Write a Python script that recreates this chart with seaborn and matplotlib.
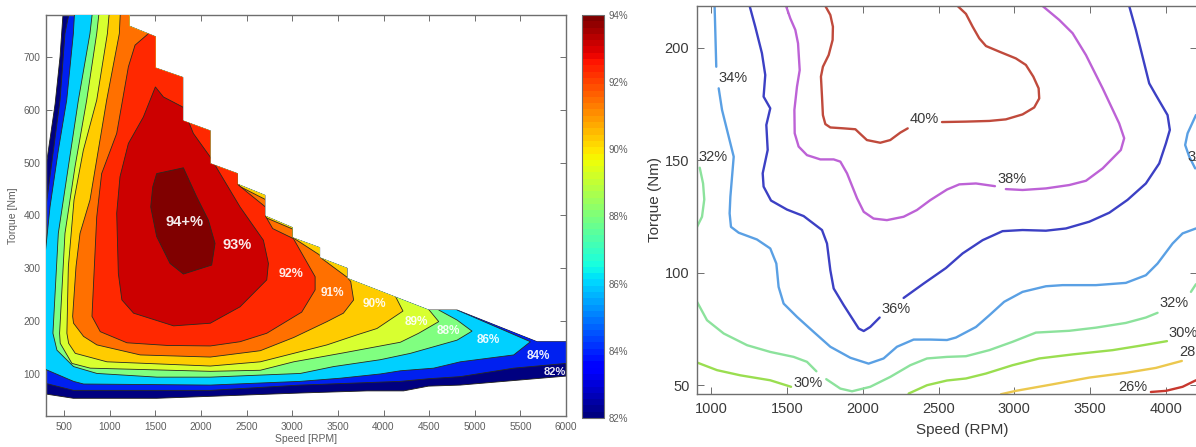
import matplotlib
matplotlib.use("Agg")
import matplotlib.pyplot as plt
import seaborn as sns

sns.set_style("ticks")
plt.rcParams['font.family'] = ['Liberation Sans', 'DejaVu Sans']

# ---------- left map: efficiency bands, speed [RPM] / torque [Nm] ----------
env_speed = [490, 1214, 1214, 1500, 1500, 1800, 1800, 2100, 2100, 2400, 2400, 2700, 2700, 3000, 3000, 3300, 3300,
             3600, 3600, 4495, 4806, 5683, 6000, 6000, 4842, 4492, 4220, 3820, 3090, 1513, 600, 300, 300, 400, 454, 490]
env_torque = [790, 790, 758, 738, 679, 661, 579, 560, 498, 479, 459, 438, 399, 377, 358, 339, 320,
              300, 281, 221, 221, 161, 161, 96, 79, 77, 68, 68, 64, 54, 54, 62, 492, 611, 700, 790]

b84_speed = [574, 508, 454, 300, 300, 602, 2101, 3088, 4184, 4495, 4842, 5427, 6005, 6100, 4806, 3000, 1500, 574]
b84_torque = [800, 744, 618, 416, 82, 69, 69, 79, 86, 91, 95, 111, 120, 170, 300, 700, 900, 800]

b86_speed = [618, 600, 527, 435, 344, 290, 290, 602, 712, 2101, 3088, 3527, 3965, 4184, 4550, 4842, 5427, 5610,
             4806, 4806, 3000, 1500, 618]
b86_torque = [800, 744, 618, 523, 416, 325, 109, 86, 81, 79, 86, 92, 100, 106, 111, 123, 136, 161,
              221, 300, 700, 900, 800]

b88_speed = [819, 782, 655, 545, 435, 376, 420, 602, 858, 1516, 2101, 3088, 3453, 3965, 4294, 4806, 4970, 4806,
             4605, 4605, 3000, 1500, 819]
b88_torque = [800, 744, 618, 492, 366, 177, 145, 114, 101, 94, 94, 101, 114, 127, 139, 164, 181, 202,
              221, 300, 700, 900, 800]

b89_speed = [892, 856, 746, 618, 508, 449, 456, 584, 785, 2101, 2649, 3015, 3563, 4184, 4385, 4605, 4495,
             4495, 3000, 1500, 892]
b89_torque = [800, 744, 618, 492, 366, 177, 158, 120, 111, 105, 107, 123, 140, 160, 177, 199, 222,
              300, 700, 900, 800]

b90_speed = [1002, 973, 856, 709, 607, 545, 529, 548, 621, 968, 2101, 2649, 3015, 3380, 3709, 3928, 4213, 4130,
             4130, 3000, 1500, 1002]
b90_torque = [800, 744, 618, 523, 429, 303, 177, 158, 139, 123, 115, 123, 139, 155, 174, 186, 219, 247,
              300, 700, 900, 800]

b91_speed = [1119, 1104, 965, 782, 673, 629, 592, 602, 712, 858, 1334, 2101, 2649, 3015, 3380, 3560, 3672, 3640,
             3600, 3310, 3300, 3005, 3005, 2705, 2705, 2420, 2405, 1500, 1119]
b91_torque = [800, 744, 618, 429, 366, 303, 209, 196, 171, 155, 136, 132, 144, 169, 199, 215, 240, 275,
              283, 320, 325, 358, 374, 396, 430, 455, 500, 900, 800]

b92_speed = [1500, 1404, 1276, 1203, 1075, 910, 856, 804, 895, 1187, 1626, 2101, 2427, 2720, 3103, 3250, 3250,
             3012, 2785, 2705, 2705, 2405, 2405, 1500]
b92_torque = [760, 741, 722, 681, 555, 479, 397, 209, 180, 159, 154, 153, 161, 177, 217, 259, 284,
              356, 375, 399, 416, 458, 500, 760]

b93_speed = [1499, 1367, 1203, 1111, 1075, 1093, 1132, 1260, 1699, 2101, 2427, 2720, 2738, 2683, 2427, 2098, 1915,
             1799, 1587, 1499]
b93_torque = [643, 586, 536, 473, 404, 290, 240, 215, 191, 196, 227, 278, 309, 353, 416, 511, 555,
              605, 624, 643]

b94_speed = [1513, 1806, 1952, 2080, 2153, 2116, 1806, 1660, 1513, 1448, 1470, 1513]
b94_torque = [479, 490, 435, 391, 347, 306, 289, 309, 360, 416, 454, 479]

band_labels = ['94+%', '93%', '92%', '91%', '90%', '89%', '88%', '86%', '84%', '82%']
band_label_speed = [1815, 2390, 2983, 3443, 3899, 4356, 4707, 5146, 5698, 5873]
band_label_torque = [388, 344, 289, 254, 232, 199, 182, 164, 134, 104]
band_label_size = [10.5, 10.5, 9, 8.5, 8.5, 8.5, 8.5, 8.5, 8.5, 8]

# ---------- right map: efficiency contour lines ----------
l40a_speed = [1754, 1787, 1804, 1802, 1776, 1738, 1725, 1732, 1738, 1754, 1787, 1875, 1952, 1985, 2028, 2116, 2182,
              2248, 2297]
l40a_torque = [218.5, 214.5, 209.3, 203.4, 196.7, 191.5, 187.1, 178.2, 170.0, 166.0, 164.5, 164.1, 163.7, 161.6,
               158.9, 157.7, 158.9, 162.2, 164.1]
l40b_speed = [2523, 2681, 2835, 2944, 3054, 3131, 3164, 3160, 3125, 3076, 3010, 2901, 2813, 2769, 2725, 2681, 2626]
l40b_torque = [166.9, 167.1, 167.4, 168.1, 170.3, 173.4, 177.4, 181.9, 187.1, 192.3, 195.2, 198.2, 200.7, 204.1,
               209.3, 215.0, 218.5]

l38a_speed = [1495, 1523, 1556, 1574, 1585, 1567, 1550, 1552, 1578, 1633, 1721, 1809, 1853, 1897, 1963, 2007, 2072,
              2160, 2270, 2358, 2446, 2556, 2637, 2747, 2872]
l38a_torque = [218.5, 213.0, 207.9, 201.9, 190.0, 182.6, 172.3, 161.9, 156.0, 152.2, 150.3, 150.3, 149.3, 144.1,
               133.0, 127.0, 124.0, 123.3, 124.8, 127.8, 132.2, 136.9, 139.2, 139.6, 138.4]
l38b_speed = [2944, 3054, 3208, 3362, 3472, 3582, 3702, 3724, 3691, 3582, 3472, 3384, 3296, 3186]
l38b_torque = [137.1, 136.7, 137.4, 138.9, 140.8, 146.3, 154.5, 159.7, 166.3, 181.9, 196.7, 206.4, 212.3, 218.5]

l36a_speed = [1255, 1292, 1336, 1358, 1347, 1391, 1365, 1374, 1341, 1347, 1396, 1501, 1611, 1732, 1765, 1787, 1809,
              1875, 1974, 2007, 2050, 2112]
l36a_torque = [218.5, 209.3, 197.5, 187.8, 178.2, 173.0, 165.6, 154.5, 144.1, 138.2, 132.0, 128.0, 125.1, 118.9,
               112.9, 101.0, 92.9, 85.5, 75.1, 74.0, 75.8, 80.0]
l36b_speed = [2270, 2402, 2549, 2659, 2791, 2922, 3054, 3208, 3340, 3494, 3626, 3746, 3867, 3955, 3999, 4025, 4010,
              3933, 3889, 3845, 3801, 3757]
l36b_torque = [88.7, 95.1, 102.0, 108.5, 114.4, 118.4, 118.9, 118.6, 119.6, 122.6, 126.6, 132.3, 139.6, 148.5,
               157.4, 163.4, 170.0, 178.9, 184.1, 196.0, 207.9, 218.5]

l34a_speed = [1024, 1029, 1035]
l34a_torque = [218.5, 206.4, 191.5]
l34b_speed = [1051, 1073, 1117, 1150, 1139, 1128, 1123, 1132, 1183, 1303, 1391, 1431, 1446, 1479, 1567, 1677, 1787,
              1919, 2039, 2138, 2226, 2336, 2446, 2556, 2615, 2747, 2835, 2933, 3054, 3208, 3318, 3538, 3735, 3867,
              3944, 4043, 4109, 4197]
l34b_torque = [181.9, 172.3, 160.4, 151.5, 142.6, 133.7, 126.3, 120.3, 117.7, 114.7, 110.7, 104.0, 93.6, 86.2, 80.3,
               73.6, 67.0, 62.1, 59.5, 61.8, 67.0, 70.2, 70.2, 70.0, 71.1, 75.8, 81.0, 87.0, 91.4, 93.9, 94.4, 94.4,
               95.4, 98.8, 104.0, 112.9, 117.4, 119.6]
l34c_speed = [4197, 4142, 4126, 4153, 4192]
l34c_torque = [170.0, 161.9, 156.7, 151.5, 146.3]

l32a_speed = [926, 948, 956, 941, 908]
l32a_torque = [146.6, 139.6, 132.5, 124.8, 120.3]
l32b_speed = [908, 974, 1084, 1238, 1391, 1545, 1633, 1695]
l32b_torque = [87.0, 78.8, 72.9, 67.7, 64.7, 62.5, 60.3, 56.1]
l32c_speed = [1760, 1853, 1930, 2050, 2182, 2314, 2424, 2556, 2681, 2835, 2988, 3142, 3362, 3538, 3735, 3867, 3944]
l32c_torque = [52.6, 48.4, 47.2, 49.2, 53.6, 58.8, 61.8, 62.5, 62.8, 65.5, 69.2, 73.3, 74.1, 75.5, 77.6, 80.0, 82.1]
l32d_speed = [4164, 4197]
l32d_torque = [91.4, 94.8]

l30a_speed = [908, 1040, 1194, 1391, 1528]
l30a_torque = [60.0, 56.6, 54.3, 52.1, 49.2]
l30b_speed = [2303, 2424, 2556, 2681, 2813, 2988, 3164, 3384, 3648, 3823, 4006]
l30b_torque = [46.2, 49.9, 52.0, 52.9, 55.1, 58.8, 61.8, 63.6, 65.5, 67.4, 69.5]

l28_speed = [2912, 3010, 3252, 3494, 3735, 3933, 4104]
l28_torque = [45.9, 47.4, 50.3, 53.3, 55.4, 57.6, 60.7]

l26_speed = [3900, 3999, 4109, 4197]
l26_torque = [46.9, 47.4, 49.2, 52.1]

line_labels = ['40%', '38%', '36%', '34%', '32%', '30%', '32%', '30%', '26%']
line_label_speed = [2406, 2982, 2220, 1143, 1013, 1641, 4055, 4110, 3781]
line_label_torque = [168.1, 141.5, 83.7, 186.4, 151.5, 50.8, 86.3, 73.3, 49.0]

cbar_ticks = [82, 84, 86, 88, 90, 92, 94]

fig = plt.figure(figsize=(11.96, 4.47), dpi=100)
W, H = 1196, 447
grey = '#6e6e6e'
text_grey = '#5f5f5f'

# ---------- Left panel ----------
ax = fig.add_axes([46 / W, 1 - 416 / H, 520 / W, 401 / H])
env = ax.fill(env_speed, env_torque, color='#000080', ec='#20201a', lw=0.6, zorder=1)[0]

bands = [(b84_speed, b84_torque, '#0020f0'), (b86_speed, b86_torque, '#00d0ff'), (b88_speed, b88_torque, '#80ff80'),
         (b89_speed, b89_torque, '#d8ff30'), (b90_speed, b90_torque, '#ffcc00'), (b91_speed, b91_torque, '#ff7000'),
         (b92_speed, b92_torque, '#ff2800'), (b93_speed, b93_torque, '#cc0000'), (b94_speed, b94_torque, '#800000')]
for i, (s, t, col) in enumerate(bands):
    poly = ax.fill(s, t, fc=col, ec='#2a2a20', lw=0.6, zorder=2 + i)[0]
    poly.set_clip_path(env)

for lab, s, t, fs in zip(band_labels, band_label_speed, band_label_torque, band_label_size):
    ax.text(s, t, lab, color='white', fontsize=fs, fontweight='bold', ha='center', va='center', zorder=20, alpha=0.92)

ax.set_xlim(300, 6000)
ax.set_ylim(20.5, 779)
ax.set_xticks(range(500, 6001, 500))
ax.set_yticks(range(100, 701, 100))
ax.set_xlabel('Speed [RPM]', fontsize=7.5, color=text_grey, labelpad=2)
ax.set_ylabel('Torque [Nm]', fontsize=7.5, color=text_grey, labelpad=4)
ax.tick_params(direction='in', length=4, width=0.7, color=grey, labelcolor=text_grey, labelsize=7.3,
               top=True, right=True, pad=4)
for sp in ax.spines.values():
    sp.set_visible(True)
    sp.set_color(grey)
    sp.set_linewidth(1.0)

# ---------- Colorbar ----------
cax = fig.add_axes([582 / W, 1 - 418 / H, 22 / W, 403 / H])
sm = plt.cm.ScalarMappable(norm=plt.Normalize(82, 94), cmap=plt.get_cmap('jet', 64))
cb = fig.colorbar(sm, cax=cax, ticks=cbar_ticks)
cb.ax.set_yticklabels([f'{v}%' for v in cbar_ticks])
cb.ax.tick_params(direction='in', length=3, width=0.6, color='#404040', labelcolor=text_grey, labelsize=7,
                  left=True, right=True, pad=3)
cb.outline.set_edgecolor(grey)
cb.outline.set_linewidth(0.8)

# ---------- Right panel ----------
ax2 = fig.add_axes([697 / W, 1 - 394 / H, 500 / W, 388 / H])
c40, c38, c36, c34 = '#c04a3c', '#bd62d6', '#3c40c4', '#5aa0e4'
c32, c30, c28, c26 = '#8ce29c', '#9ade50', '#ecc84e', '#c8382e'
lines = [(l40a_speed, l40a_torque, c40), (l40b_speed, l40b_torque, c40),
         (l38a_speed, l38a_torque, c38), (l38b_speed, l38b_torque, c38),
         (l36a_speed, l36a_torque, c36), (l36b_speed, l36b_torque, c36),
         (l34a_speed, l34a_torque, c34), (l34b_speed, l34b_torque, c34), (l34c_speed, l34c_torque, c34),
         (l32a_speed, l32a_torque, c32), (l32b_speed, l32b_torque, c32),
         (l32c_speed, l32c_torque, c32), (l32d_speed, l32d_torque, c32),
         (l30a_speed, l30a_torque, c30), (l30b_speed, l30b_torque, c30),
         (l28_speed, l28_torque, c28), (l26_speed, l26_torque, c26)]
for s, t, col in lines:
    sns.lineplot(x=s, y=t, sort=False, estimator=None, color=col, lw=1.7, ax=ax2, legend=False)

for lab, s, t in zip(line_labels, line_label_speed, line_label_torque):
    ax2.text(s, t, lab, fontsize=10.5, color='#3a3a3a', ha='center', va='center')
# the picture's right edge cuts these two labels, only their first digits show
ax2.text(4195, 64.8, '28', fontsize=10.5, color='#3a3a3a', ha='right', va='center')
ax2.text(4195, 151.5, '3', fontsize=10.5, color='#3a3a3a', ha='right', va='center')

ax2.set_xlim(908, 4204)
ax2.set_ylim(46, 218.5)
ax2.set_xticks([1000, 1500, 2000, 2500, 3000, 3500, 4000])
ax2.set_yticks([50, 100, 150, 200])
ax2.set_xlabel('Speed (RPM)', fontsize=11, color='#3a3a3a')
ax2.xaxis.set_label_coords(0.53, -0.075)
ax2.set_ylabel('Torque (Nm)', fontsize=11, color='#3a3a3a', labelpad=2)
ax2.tick_params(direction='in', length=5, width=0.7, color=grey, labelcolor='#3a3a3a', labelsize=10.5,
                top=True, right=True, pad=5.5)
for sp in ax2.spines.values():
    sp.set_visible(True)
    sp.set_color(grey)
    sp.set_linewidth(1.0)

fig.savefig('out.png', dpi=100)
